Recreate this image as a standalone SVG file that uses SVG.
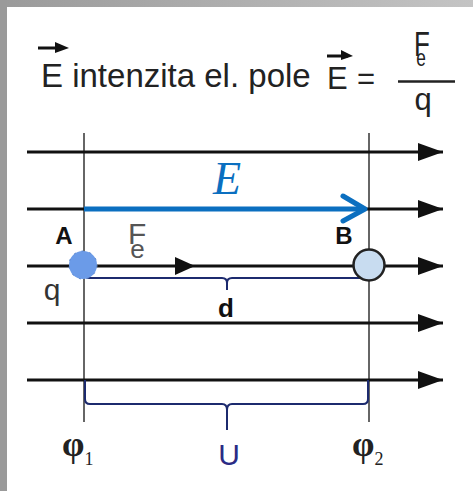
<svg xmlns="http://www.w3.org/2000/svg" width="473" height="491" viewBox="0 0 473 491">
<defs>
<linearGradient id="topg" x1="0" y1="0" x2="1" y2="0">
<stop offset="0" stop-color="#9a9a9a"/>
<stop offset="1" stop-color="#c4c4c4"/>
</linearGradient>
<marker id="ah" markerUnits="userSpaceOnUse" markerWidth="26" markerHeight="20" refX="25" refY="9" orient="auto">
<path d="M0,0 L25,9 L0,18 Z" fill="#111"/>
</marker>
</defs>
<style>
.sans{font-family:"Liberation Sans",Arial,sans-serif}
.serif{font-family:"Liberation Serif","Times New Roman",serif}
.field{stroke:#111;stroke-width:3.2;fill:none}
.vert{stroke:#666;stroke-width:2}
.brace{stroke:#1c2a6e;stroke-width:2;fill:none}
</style>
<rect x="0" y="0" width="473" height="491" fill="#fff"/>
<rect x="0" y="0" width="473" height="7" fill="url(#topg)"/>
<rect x="0" y="0" width="7" height="491" fill="#9a9a9a"/>

<g id="header" class="sans" fill="#222">
<path d="M38,48 L62,48" stroke="#111" stroke-width="3"/>
<path d="M55,42 L69,48 L55,53 Z" fill="#111"/>
<text x="41" y="87" font-size="33">E intenzita el. pole</text>
<path d="M327,56 L348,56" stroke="#111" stroke-width="3"/>
<path d="M341,50 L353,56 L341,60 Z" fill="#111"/>
<text x="327" y="89" font-size="31">E</text>
<text x="357" y="89" font-size="31">=</text>
<text transform="translate(414,56) scale(0.72,1)" font-size="36">F<tspan font-size="24" dx="-19" dy="10">e</tspan></text>
<path d="M398,81.5 L455,81.5" stroke="#222" stroke-width="2.5"/>
<text x="423" y="110" font-size="31" text-anchor="middle">q</text>
</g>

<g id="potentials">
<line class="vert" x1="84" y1="133" x2="84" y2="422"/>
<line class="vert" x1="369" y1="133" x2="369" y2="422"/>
</g>

<g id="connectors">
<line class="field" x1="27" y1="152" x2="443" y2="152" marker-end="url(#ah)"/>
<line class="field" x1="27" y1="209" x2="443" y2="209" marker-end="url(#ah)"/>
<line class="field" x1="27" y1="266" x2="443" y2="266" marker-end="url(#ah)"/>
<line class="field" x1="27" y1="323" x2="443" y2="323" marker-end="url(#ah)"/>
<line class="field" x1="27" y1="380" x2="443" y2="380" marker-end="url(#ah)"/>
<path d="M175,257 L195,266 L175,275 Z" fill="#111"/>
<path d="M84,209 L364,209" stroke="#0b6fc0" stroke-width="5" fill="none"/>
<path d="M343,196 L365,209 L343,221" stroke="#0b6fc0" stroke-width="5" fill="none" stroke-linecap="round" stroke-linejoin="round"/>
<path class="brace" d="M85,266 L85,274 Q85,278 89,278 L222,278 Q227,278 227,283 L227,290 M227,283 Q227,278 232,278 L364,278 Q368,278 368,274 L368,266"/>
<path class="brace" d="M85,380 L85,399 Q85,404 90,404 L222,404 Q227,404 227,410 L227,430 M227,410 Q227,404 232,404 L363,404 Q368,404 368,399 L368,380"/>
</g>

<g id="labelE">
<text x="227" y="194" font-size="46" fill="#0b6fc0" text-anchor="middle" class="serif" font-style="italic">E</text>
</g>

<g id="pointA">
<circle cx="83" cy="265" r="14" fill="#6b9be8" stroke="#5a85cc" stroke-width="1" stroke-dasharray="2 6"/>
<text x="64" y="244" font-size="24" font-weight="bold" text-anchor="middle" class="sans" fill="#111">A</text>
<text x="52" y="300" font-size="30" text-anchor="middle" class="sans" fill="#333">q</text>
</g>

<g id="force" class="sans" fill="#555">
<text x="128" y="244" font-size="30">F<tspan font-size="26" dx="-16" dy="14">e</tspan></text>
</g>

<g id="pointB">
<circle cx="369" cy="265" r="15.5" fill="#c8dcf0" stroke="#222" stroke-width="2.5"/>
<text x="344" y="244" font-size="24" font-weight="bold" text-anchor="middle" class="sans" fill="#111">B</text>
</g>

<g id="labelD">
<text x="226" y="317" font-size="26" font-weight="bold" text-anchor="middle" class="sans" fill="#111">d</text>
</g>

<g id="labelU">
<text x="229" y="465" font-size="30" text-anchor="middle" class="sans" fill="#2b2b85">U</text>
</g>

<g id="phi1" class="serif" fill="#222">
<text x="62" y="456" font-size="36" font-weight="bold">φ<tspan font-size="18" font-weight="normal" dy="9">1</tspan></text>
</g>
<g id="phi2" class="serif" fill="#222">
<text x="352" y="456" font-size="36" font-weight="bold">φ<tspan font-size="18" font-weight="normal" dy="9">2</tspan></text>
</g>
</svg>
